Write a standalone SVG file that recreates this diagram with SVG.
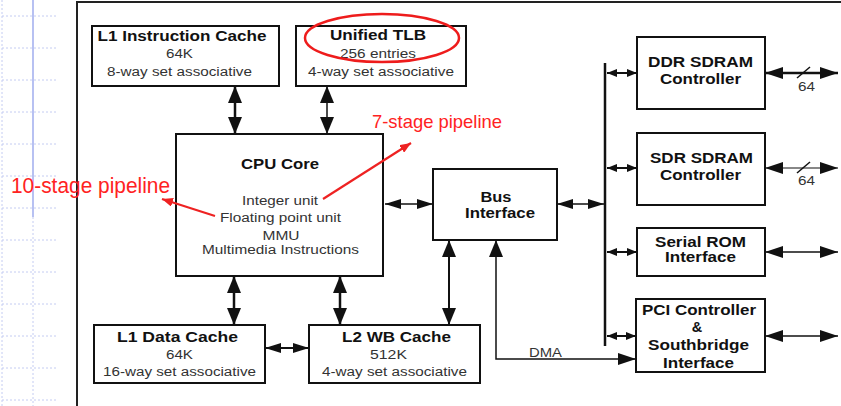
<svg xmlns="http://www.w3.org/2000/svg" width="841" height="406" viewBox="0 0 841 406">
  <style>
    .box { fill: #ffffff; stroke: #111111; stroke-width: 2; }
    .hd { font-family: "Liberation Sans", Arial, sans-serif; font-weight: bold; font-size: 14.5px; fill: #111111; text-anchor: middle; }
    .tx { font-family: "Liberation Sans", Arial, sans-serif; font-size: 12.5px; fill: #333333; text-anchor: middle; }
    .red { font-family: "Liberation Sans", Arial, sans-serif; fill: #ff2222; }
    .grid { stroke: #c4ccf2; stroke-width: 1; stroke-dasharray: 2 2; fill: none; }
    .w1 { fill: none; stroke: #111111; stroke-width: 1.5; }
    .w2 { fill: none; stroke: #111111; stroke-width: 2; }
    .w3 { fill: none; stroke: #111111; stroke-width: 2.5; }
    .redline { fill: none; stroke: #ee2222; stroke-width: 2.2; }
  </style>
  <defs>
    <marker id="big" markerUnits="userSpaceOnUse" viewBox="0 0 17 14" markerWidth="17" markerHeight="14" refX="17" refY="7" orient="auto-start-reverse">
      <path d="M0,0 L17,7 L0,14 z" fill="#111111"/>
    </marker>
    <marker id="mid" markerUnits="userSpaceOnUse" viewBox="0 0 18 12" markerWidth="18" markerHeight="12" refX="18" refY="6" orient="auto-start-reverse">
      <path d="M0,0 L18,6 L0,12 z" fill="#111111"/>
    </marker>
    <marker id="sm" markerUnits="userSpaceOnUse" viewBox="0 0 16 10" markerWidth="16" markerHeight="10" refX="16" refY="5" orient="auto-start-reverse">
      <path d="M0,0 L16,5 L0,10 z" fill="#111111"/>
    </marker>
    <marker id="tiny" markerUnits="userSpaceOnUse" viewBox="0 0 10 8" markerWidth="10" markerHeight="8" refX="10" refY="4" orient="auto-start-reverse">
      <path d="M0,0 L10,4 L0,8 z" fill="#111111"/>
    </marker>
    <marker id="redhead" markerUnits="userSpaceOnUse" viewBox="0 0 11 9" markerWidth="11" markerHeight="9" refX="11" refY="4.5" orient="auto">
      <path d="M0,0 L11,4.5 L0,9 z" fill="#ee2222"/>
    </marker>
  </defs>

  <rect x="0" y="0" width="841" height="406" fill="#ffffff"/>

  <!-- ruled margin on the left -->
  <g id="margin">
    <path class="grid" d="M2,16 H58 M2,48 H58 M2,80 H58 M2,112 H58 M2,144 H58 M2,176 H58 M2,208 H58 M2,240 H58 M2,272 H58 M2,304 H58 M2,336 H58 M2,368 H58 M2,400 H58"/>
    <path class="grid" d="M2,0 V406"/>
    <path d="M33,0 V217" stroke="#8898ea" stroke-width="1.2" fill="none"/>
    <path class="grid" d="M33,217 V406" stroke="#b0bcf0"/>
  </g>

  <!-- outer frame -->
  <path d="M77,406 V2 H841" fill="none" stroke="#222222" stroke-width="2"/>

  <g id="connectors">
    <!-- caches / TLB to CPU -->
    <line class="w3" x1="235" y1="86" x2="235" y2="134" marker-start="url(#big)" marker-end="url(#big)"/>
    <line class="w1" x1="327" y1="86" x2="327" y2="134" marker-start="url(#big)" marker-end="url(#big)"/>
    <line class="w3" x1="234" y1="276" x2="234" y2="325" marker-start="url(#big)" marker-end="url(#big)"/>
    <line class="w3" x1="340" y1="276" x2="340" y2="325" marker-start="url(#big)" marker-end="url(#big)"/>
    <line class="w2" x1="449" y1="240" x2="449" y2="325" marker-start="url(#big)" marker-end="url(#big)"/>
    <line class="w2" x1="265" y1="348" x2="309" y2="348" marker-start="url(#sm)" marker-end="url(#sm)"/>
    <!-- CPU to bus interface -->
    <line class="w1" x1="385" y1="204" x2="433" y2="204" marker-start="url(#sm)" marker-end="url(#sm)"/>
    <!-- bus interface to system bus -->
    <line class="w1" x1="557" y1="204" x2="604" y2="204" marker-start="url(#sm)" marker-end="url(#sm)"/>
    <!-- system bus -->
    <line x1="605" y1="63" x2="605" y2="346" stroke="#111111" stroke-width="2.5"/>
    <line class="w2" x1="607" y1="73" x2="637" y2="73" marker-start="url(#tiny)" marker-end="url(#tiny)"/>
    <line class="w2" x1="607" y1="168" x2="637" y2="168" marker-start="url(#tiny)" marker-end="url(#tiny)"/>
    <line class="w2" x1="607" y1="252" x2="637" y2="252" marker-start="url(#tiny)" marker-end="url(#tiny)"/>
    <line class="w2" x1="607" y1="336" x2="636" y2="336" marker-start="url(#tiny)" marker-end="url(#tiny)"/>
    <!-- external ports -->
    <line class="w3" x1="765" y1="73" x2="838" y2="73" marker-start="url(#mid)" marker-end="url(#mid)"/>
    <line x1="797" y1="78" x2="810" y2="67" stroke="#111111" stroke-width="1.5"/>
    <line x1="765" y1="168" x2="838" y2="168" stroke="#111111" stroke-width="1.2" marker-start="url(#mid)" marker-end="url(#mid)"/>
    <line x1="797" y1="173" x2="810" y2="162" stroke="#111111" stroke-width="1.5"/>
    <line class="w1" x1="765" y1="252" x2="838" y2="252" marker-start="url(#mid)" marker-end="url(#mid)"/>
    <line class="w1" x1="765" y1="336" x2="838" y2="336" marker-start="url(#mid)" marker-end="url(#mid)"/>
    <text class="tx" x="806.5" y="91" textLength="17" lengthAdjust="spacingAndGlyphs">64</text>
    <text class="tx" x="806.5" y="185" textLength="17" lengthAdjust="spacingAndGlyphs">64</text>
    <!-- DMA path -->
    <path class="w1" d="M496,240 V359 H636" marker-start="url(#big)" marker-end="url(#mid)"/>
    <text class="tx" x="545.5" y="357" textLength="33" lengthAdjust="spacingAndGlyphs">DMA</text>
  </g>

  <g id="l1-instruction-cache">
    <rect class="box" x="92" y="26" width="187" height="60"/>
    <text class="hd" x="182" y="41" textLength="169" lengthAdjust="spacingAndGlyphs">L1 Instruction Cache</text>
    <text class="tx" x="179.5" y="58" textLength="27" lengthAdjust="spacingAndGlyphs">64K</text>
    <text class="tx" x="179.5" y="76" textLength="145" lengthAdjust="spacingAndGlyphs">8-way set associative</text>
  </g>

  <g id="unified-tlb">
    <rect class="box" x="296" y="26" width="170" height="60"/>
    <text class="hd" x="378" y="40" textLength="96" lengthAdjust="spacingAndGlyphs">Unified TLB</text>
    <text class="tx" x="378" y="58" textLength="76" lengthAdjust="spacingAndGlyphs">256 entries</text>
    <text class="tx" x="381" y="76" textLength="146" lengthAdjust="spacingAndGlyphs">4-way set associative</text>
  </g>

  <g id="cpu-core">
    <rect class="box" x="176" y="134" width="207" height="142"/>
    <text class="hd" x="280" y="169" textLength="78" lengthAdjust="spacingAndGlyphs">CPU Core</text>
    <text class="tx" x="280" y="205" textLength="76" lengthAdjust="spacingAndGlyphs">Integer unit</text>
    <text class="tx" x="280.5" y="222" textLength="121" lengthAdjust="spacingAndGlyphs">Floating point unit</text>
    <text class="tx" x="281" y="240" textLength="37" lengthAdjust="spacingAndGlyphs">MMU</text>
    <text class="tx" x="280.5" y="254" textLength="157" lengthAdjust="spacingAndGlyphs">Multimedia Instructions</text>
  </g>

  <g id="bus-interface">
    <rect class="box" x="433" y="169" width="124" height="71"/>
    <text class="hd" x="496" y="202" textLength="31" lengthAdjust="spacingAndGlyphs">Bus</text>
    <text class="hd" x="500" y="218" textLength="70" lengthAdjust="spacingAndGlyphs">Interface</text>
  </g>

  <g id="ddr-sdram-controller">
    <rect class="box" x="637" y="37" width="128" height="72"/>
    <text class="hd" x="700.5" y="67" textLength="105" lengthAdjust="spacingAndGlyphs">DDR SDRAM</text>
    <text class="hd" x="700.5" y="84" textLength="81" lengthAdjust="spacingAndGlyphs">Controller</text>
  </g>

  <g id="sdr-sdram-controller">
    <rect class="box" x="637" y="133" width="128" height="72"/>
    <text class="hd" x="701.5" y="163" textLength="103" lengthAdjust="spacingAndGlyphs">SDR SDRAM</text>
    <text class="hd" x="700.5" y="180" textLength="81" lengthAdjust="spacingAndGlyphs">Controller</text>
  </g>

  <g id="serial-rom-interface">
    <rect class="box" x="637" y="228" width="128" height="48"/>
    <text class="hd" x="700.5" y="247" textLength="91" lengthAdjust="spacingAndGlyphs">Serial ROM</text>
    <text class="hd" x="700.5" y="262" textLength="71" lengthAdjust="spacingAndGlyphs">Interface</text>
  </g>

  <g id="pci-southbridge">
    <rect class="box" x="636" y="299" width="129" height="73"/>
    <text class="hd" x="699" y="315" textLength="114" lengthAdjust="spacingAndGlyphs">PCI Controller</text>
    <text class="hd" x="697" y="332">&amp;</text>
    <text class="hd" x="698.5" y="350" textLength="101" lengthAdjust="spacingAndGlyphs">Southbridge</text>
    <text class="hd" x="698.5" y="368" textLength="71" lengthAdjust="spacingAndGlyphs">Interface</text>
  </g>

  <g id="l1-data-cache">
    <rect class="box" x="94" y="325" width="171" height="58"/>
    <text class="hd" x="177.5" y="342" textLength="121" lengthAdjust="spacingAndGlyphs">L1 Data Cache</text>
    <text class="tx" x="179.5" y="359" textLength="27" lengthAdjust="spacingAndGlyphs">64K</text>
    <text class="tx" x="179.5" y="376" textLength="153" lengthAdjust="spacingAndGlyphs">16-way set associative</text>
  </g>

  <g id="l2-wb-cache">
    <rect class="box" x="309" y="325" width="171" height="58"/>
    <text class="hd" x="396.5" y="342" textLength="109" lengthAdjust="spacingAndGlyphs">L2 WB Cache</text>
    <text class="tx" x="388.5" y="359" textLength="37" lengthAdjust="spacingAndGlyphs">512K</text>
    <text class="tx" x="394.5" y="376" textLength="145" lengthAdjust="spacingAndGlyphs">4-way set associative</text>
  </g>

  <!-- red annotations -->
  <g id="annotations">
    <ellipse cx="382" cy="38" rx="77" ry="24" fill="none" stroke="#ee1c1c" stroke-width="2.5"/>
    <text class="red" x="372" y="128" font-size="19" textLength="130" lengthAdjust="spacingAndGlyphs">7-stage pipeline</text>
    <text class="red" x="11" y="193" font-size="21.5" textLength="159" lengthAdjust="spacingAndGlyphs">10-stage pipeline</text>
    <line class="redline" x1="323" y1="199" x2="411" y2="143" marker-end="url(#redhead)"/>
    <line class="redline" x1="215" y1="216" x2="162" y2="199" marker-end="url(#redhead)"/>
  </g>
</svg>
